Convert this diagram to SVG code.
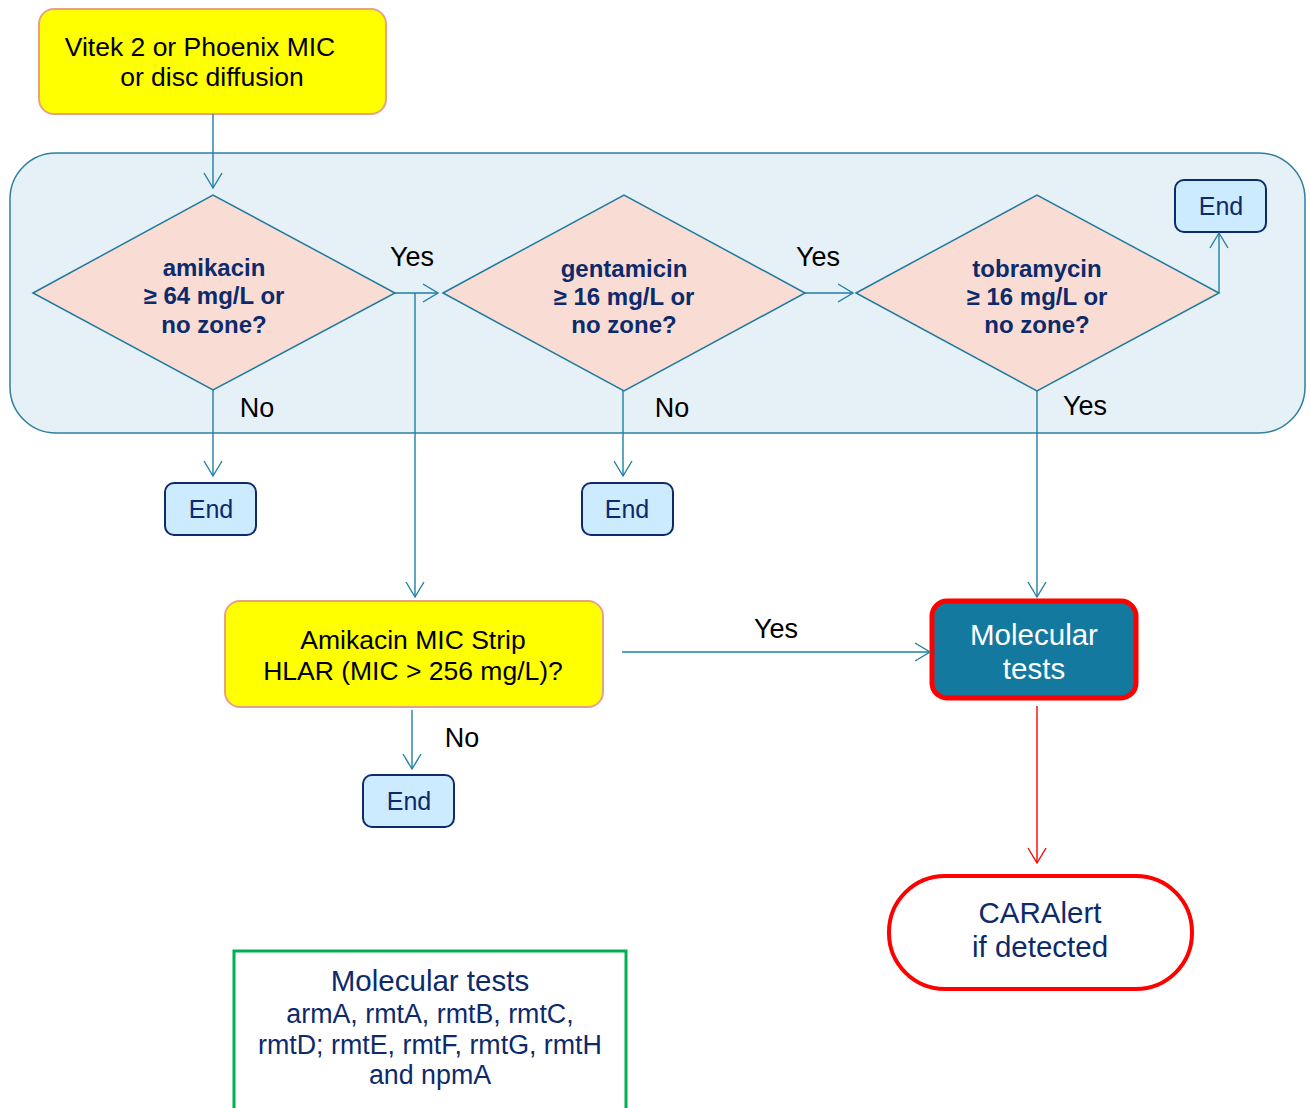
<svg xmlns="http://www.w3.org/2000/svg" width="1311" height="1108" viewBox="0 0 1311 1108">
  <defs>
    <marker id="arr" markerWidth="20" markerHeight="20" refX="16" refY="10" orient="auto" markerUnits="userSpaceOnUse">
      <path d="M1,1 L16,10 L1,19" fill="none" stroke="#1F7FA6" stroke-width="1.4"/>
    </marker>
    <marker id="arrRed" markerWidth="20" markerHeight="20" refX="16" refY="10" orient="auto" markerUnits="userSpaceOnUse">
      <path d="M1,1 L16,10 L1,19" fill="none" stroke="#FF0000" stroke-width="1.4"/>
    </marker>
  </defs>
  <style>
    text { font-family: "Liberation Sans", Arial, sans-serif; text-anchor: middle; }
    .start { fill: #FFFF00; stroke: #E9A08A; stroke-width: 2; }
    .panel { fill: #E6F0F7; stroke: #2E7FA0; stroke-width: 1.5; }
    .dia { fill: #F9DDD4; stroke: #1F7A9F; stroke-width: 1.5; }
    .dtxt { font-size: 24px; font-weight: bold; fill: #0D2A6B; }
    .end { fill: #CCEBFF; stroke: #0D2A6B; stroke-width: 2; }
    .etxt { font-size: 25px; fill: #0D2A6B; }
    .lbl { font-size: 27px; fill: #000000; }
    .btxt { font-size: 26.5px; fill: #000000; }
    .conn { fill: none; stroke: #1F7FA6; stroke-width: 1.4; }
    .connRed { fill: none; stroke: #FF0000; stroke-width: 1.4; }
  </style>

  <!-- grouping panel for the three drug checks -->
  <g id="panel">
    <rect class="panel" x="10" y="153" width="1295" height="280" rx="46"/>
  </g>

  <g id="start">
    <rect class="start" x="39" y="9" width="347" height="105" rx="15"/>
    <text class="btxt" x="200" y="56">Vitek 2 or Phoenix MIC</text>
    <text class="btxt" x="212" y="86">or disc diffusion</text>
  </g>

  <g id="amikacin">
    <polygon class="dia" points="33,293 213,195 395,293 213,390"/>
    <text class="dtxt" x="214" y="276">amikacin</text>
    <text class="dtxt" x="214" y="304">≥ 64 mg/L or</text>
    <text class="dtxt" x="214" y="333">no zone?</text>
  </g>

  <g id="gentamicin">
    <polygon class="dia" points="443,293 624,195 805,293 624,391"/>
    <text class="dtxt" x="624" y="277">gentamicin</text>
    <text class="dtxt" x="624" y="305">≥ 16 mg/L or</text>
    <text class="dtxt" x="624" y="333">no zone?</text>
  </g>

  <g id="tobramycin">
    <polygon class="dia" points="856,293 1037,195 1219,293 1037,391"/>
    <text class="dtxt" x="1037" y="277">tobramycin</text>
    <text class="dtxt" x="1037" y="305">≥ 16 mg/L or</text>
    <text class="dtxt" x="1037" y="333">no zone?</text>
  </g>

  <g id="end-tobra">
    <rect class="end" x="1175" y="180" width="91" height="52" rx="9"/>
    <text class="etxt" x="1221" y="215">End</text>
  </g>

  <g id="end-amik">
    <rect class="end" x="165" y="483" width="91" height="52" rx="9"/>
    <text class="etxt" x="211" y="518">End</text>
  </g>

  <g id="end-genta">
    <rect class="end" x="582" y="483" width="91" height="52" rx="9"/>
    <text class="etxt" x="627" y="518">End</text>
  </g>

  <g id="strip">
    <rect class="start" x="225" y="601" width="378" height="106" rx="15"/>
    <text class="btxt" x="413" y="649">Amikacin MIC Strip</text>
    <text class="btxt" x="413" y="680">HLAR (MIC &gt; 256 mg/L)?</text>
  </g>

  <g id="end-strip">
    <rect class="end" x="363" y="775" width="91" height="52" rx="9"/>
    <text class="etxt" x="409" y="810">End</text>
  </g>

  <g id="molecular">
    <rect x="932" y="601" width="204" height="97" rx="15" fill="#13799F" stroke="#FF0000" stroke-width="5"/>
    <text x="1034" y="645" font-size="29.5" fill="#FFFFFF">Molecular</text>
    <text x="1034" y="679" font-size="29.5" fill="#FFFFFF">tests</text>
  </g>

  <g id="caralert">
    <rect x="889" y="876" width="303" height="113" rx="56" fill="#FFFFFF" stroke="#FF0000" stroke-width="4"/>
    <text x="1040" y="923" font-size="29.5" fill="#0D2A6B">CARAlert</text>
    <text x="1040" y="957" font-size="29.5" fill="#0D2A6B">if detected</text>
  </g>

  <g id="legend">
    <rect x="234" y="951" width="392" height="170" fill="#FFFFFF" stroke="#00B050" stroke-width="3"/>
    <text x="430" y="991" font-size="29.5" fill="#0D2A6B">Molecular tests</text>
    <text x="430" y="1023" font-size="26.8" fill="#0D2A6B">armA, rmtA, rmtB, rmtC,</text>
    <text x="430" y="1054" font-size="26.8" fill="#0D2A6B">rmtD; rmtE, rmtF, rmtG, rmtH</text>
    <text x="430" y="1084" font-size="26.8" fill="#0D2A6B">and npmA</text>
  </g>

  <g id="connectors">
    <path class="conn" d="M213,114 V188" marker-end="url(#arr)"/>
    <path class="conn" d="M395,293 H438" marker-end="url(#arr)"/>
    <path class="conn" d="M415,293 V597" marker-end="url(#arr)"/>
    <path class="conn" d="M805,293 H853" marker-end="url(#arr)"/>
    <path class="conn" d="M1219,293 V233" marker-end="url(#arr)"/>
    <path class="conn" d="M213,390 V476" marker-end="url(#arr)"/>
    <path class="conn" d="M623,391 V476" marker-end="url(#arr)"/>
    <path class="conn" d="M1037,391 V597" marker-end="url(#arr)"/>
    <path class="conn" d="M622,652 H930" marker-end="url(#arr)"/>
    <path class="conn" d="M412,710 V769" marker-end="url(#arr)"/>
    <path class="connRed" d="M1037,706 V863" marker-end="url(#arrRed)"/>

    <text class="lbl" x="412" y="266">Yes</text>
    <text class="lbl" x="818" y="266">Yes</text>
    <text class="lbl" x="257" y="417">No</text>
    <text class="lbl" x="672" y="417">No</text>
    <text class="lbl" x="1085" y="415">Yes</text>
    <text class="lbl" x="776" y="638">Yes</text>
    <text class="lbl" x="462" y="747">No</text>
  </g>
</svg>
